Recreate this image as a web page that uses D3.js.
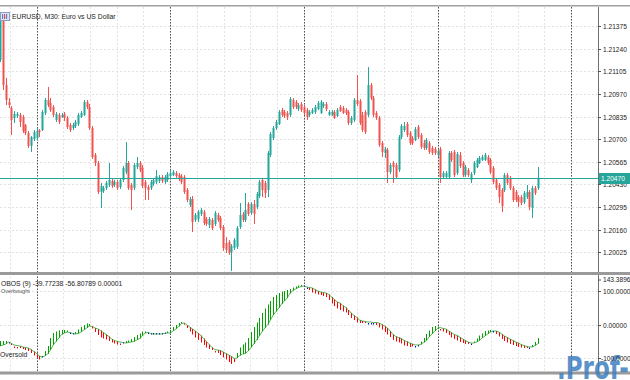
<!DOCTYPE html>
<html><head><meta charset="utf-8">
<script src="https://cdn.jsdelivr.net/npm/d3@7"></script>
<style>body{margin:0;background:#fff;overflow:hidden}svg{display:block;font-family:"Liberation Sans",Arial,sans-serif}</style>
</head><body><svg id="c" width="630" height="380"></svg>
<script>
// ---- data (prices in points above 1.20000, 1 point = 0.00001) ----
const basePrice = 1.2, pointSize = 0.00001;
const openPts = [
1173,1412,1024,922,886,827,839,845,833,785,
737,660,701,707,755,755,857,934,916,892,
815,845,833,851,827,785,767,779,791,833,
845,922,892,767,606,558,385,391,409,427,
451,427,445,415,457,504,558,427,409,534,
558,528,445,415,409,433,445,451,474,445,
457,480,486,498,486,480,474,397,307,343,
218,224,254,265,224,188,218,194,248,230,
176,80,86,27,51,57,176,254,218,313,
260,313,295,361,457,439,397,606,707,767,
791,874,863,857,845,934,922,880,910,892,
874,845,857,863,880,857,898,910,845,845,
863,839,892,886,874,863,797,815,934,928,
845,863,845,1024,946,857,827,677,618,636,
504,558,546,516,713,755,791,737,707,695,
773,725,677,648,677,648,642,606,642,474,
474,474,618,624,498,606,558,486,516,457,
498,534,558,576,576,594,576,528,457,427,
397,397,486,469,409,385,355,355,325,355,
385,289,409,409];
const highPts = [
1448,1436,1066,946,898,868,863,857,845,791,
749,719,755,767,761,874,946,1012,946,904,
863,857,857,863,839,797,797,815,857,868,
934,934,910,779,618,570,439,421,451,558,
463,457,457,469,540,683,570,439,558,594,
570,546,457,427,457,469,516,486,486,486,
504,516,516,510,498,492,486,409,355,361,
260,277,289,277,236,236,230,271,260,242,
188,116,98,74,110,182,319,265,379,325,
325,337,385,457,469,451,630,743,779,815,
874,886,874,868,952,946,934,916,922,904,
886,874,886,904,928,934,922,922,874,874,
874,886,904,898,886,874,839,946,1083,940,
863,874,1131,1036,958,868,839,689,654,648,
558,570,558,725,791,803,803,749,719,773,
785,737,695,707,689,660,654,642,654,510,
510,630,630,636,624,624,570,546,528,504,
570,588,600,606,618,606,588,540,469,439,
409,498,498,480,421,397,367,367,391,427,
397,421,421,534];
const lowPts = [
1161,994,904,886,725,797,827,773,737,725,
648,624,689,695,713,749,845,892,863,833,
803,791,827,809,761,743,755,767,779,827,
839,880,755,582,540,373,289,379,397,415,
409,415,397,403,445,492,397,277,397,522,
504,409,337,337,397,421,433,439,439,433,
445,469,480,469,451,433,373,325,295,146,
206,206,242,188,182,170,158,182,206,158,
33,21,9,-87,39,45,164,206,206,242,
248,194,283,349,355,349,355,594,695,755,
785,833,827,815,833,880,880,868,863,845,
815,833,851,851,874,851,886,868,839,839,
821,833,863,851,845,785,785,803,898,785,
743,731,833,934,833,815,654,594,588,439,
492,439,463,504,701,743,713,666,666,689,
701,642,636,636,612,606,606,594,439,463,
469,463,564,474,486,528,474,474,474,439,
486,528,552,570,570,546,492,433,397,319,
265,385,427,397,325,325,295,307,313,343,
277,230,367,397];
const closePts = [
1424,1024,934,904,815,851,851,803,749,737,
660,713,743,749,743,863,934,904,874,845,
851,803,845,827,773,755,785,803,845,857,
922,892,767,594,558,385,421,409,439,457,
421,445,409,457,528,558,409,397,546,558,
516,421,409,397,445,457,480,474,451,474,
492,498,504,480,463,445,385,337,343,206,
248,265,277,200,194,224,170,260,218,170,
51,39,21,62,98,170,248,218,277,254,
313,254,373,445,397,379,618,731,767,803,
863,845,839,833,940,892,892,904,874,857,
833,863,874,892,916,922,910,880,863,863,
827,874,868,857,857,797,827,934,910,797,
755,743,1024,946,845,827,666,624,642,504,
546,534,474,713,779,779,725,677,677,761,
713,654,648,695,624,618,618,630,474,498,
498,618,576,486,612,540,486,534,486,492,
558,576,588,594,606,558,504,445,409,355,
301,486,439,409,337,337,325,319,379,385,
295,409,379,470];
// OBOS(9) oscillator: fast line and slow line
const obosFast = [
-48.7,-48.7,-48.7,-51.7,-60.6,-65.0,-66.5,-69.5,-72.5,-75.5,
-78.4,-84.4,-91.8,-99.3,-103.7,-93.3,-78.4,-63.6,-39.7,-24.9,
-20.4,-17.4,-15.9,-15.9,-17.4,-23.4,-24.9,-21.9,-14.4,-7.0,
-1.0,3.4,1.9,-11.5,-21.9,-30.8,-38.3,-41.2,-44.2,-48.7,
-53.1,-56.1,-59.1,-56.1,-51.7,-48.7,-47.2,-42.7,-36.8,-30.8,
-26.3,-20.4,-20.4,-23.4,-24.9,-24.9,-24.9,-24.9,-24.9,-23.4,
-20.4,-15.9,-7.0,-1.0,4.9,7.9,0.4,-10.0,-20.4,-29.3,
-38.3,-45.7,-53.1,-60.6,-68.0,-72.5,-75.5,-78.4,-84.4,-90.4,
-97.8,-103.7,-111.2,-117.1,-111.2,-84.4,-68.0,-59.1,-53.1,-39.7,
-21.9,-7.0,6.4,19.8,34.7,48.1,60.0,70.4,82.3,88.3,
94.2,98.7,100.2,103.2,106.1,110.6,113.6,116.5,118.0,116.5,
110.6,103.2,95.7,92.7,89.8,88.3,85.3,82.3,73.4,63.0,
55.5,48.1,43.6,39.1,36.2,28.7,19.8,13.8,6.4,4.9,
4.9,4.9,4.9,4.9,4.9,-1.0,-8.5,-14.4,-21.9,-29.3,
-36.8,-45.7,-50.2,-53.1,-56.1,-62.1,-63.6,-66.5,-65.0,-63.6,
-60.6,-50.2,-39.7,-27.8,-17.4,-7.0,-4.0,-5.5,-12.9,-20.4,
-24.9,-30.8,-38.3,-42.7,-47.2,-51.7,-54.6,-57.6,-57.6,-56.1,
-50.2,-41.2,-32.3,-26.3,-18.9,-17.4,-15.9,-18.9,-27.8,-35.3,
-42.7,-48.7,-53.1,-57.6,-60.6,-63.6,-66.5,-68.0,-69.5,-69.5,
-68.0,-60.6,-51.7,-39.77238];
const obosSlow = [
-63.6,-60.6,-57.6,-51.7,-56.1,-60.6,-62.1,-63.6,-66.5,-68.0,
-69.5,-74.0,-79.9,-85.9,-93.3,-96.3,-93.3,-87.4,-75.5,-60.6,
-50.2,-39.7,-29.3,-24.9,-21.9,-23.4,-26.3,-27.8,-26.3,-21.9,
-15.9,-10.0,-4.0,-5.5,-10.0,-12.9,-17.4,-23.4,-29.3,-35.3,
-42.7,-47.2,-50.2,-51.7,-53.1,-54.6,-53.1,-51.7,-50.2,-45.7,
-41.2,-33.8,-24.9,-23.4,-26.3,-27.8,-27.8,-27.8,-27.8,-26.3,
-24.9,-24.9,-18.9,-12.9,-5.5,3.4,4.9,-1.0,-7.0,-12.9,
-18.9,-24.9,-32.3,-41.2,-50.2,-59.1,-68.0,-74.0,-75.5,-77.0,
-81.4,-85.9,-90.4,-94.8,-100.8,-99.3,-91.8,-87.4,-85.9,-78.4,
-68.0,-57.6,-45.7,-33.8,-20.4,-10.0,0.4,13.8,28.7,39.1,
49.6,61.5,70.4,79.3,92.7,101.7,106.1,110.6,113.6,115.1,
112.1,110.6,109.1,104.6,100.2,97.2,95.7,94.2,89.8,82.3,
74.9,67.4,64.4,57.0,51.1,43.6,34.7,27.2,21.3,13.8,
10.9,9.4,7.9,7.9,6.4,6.4,4.9,0.4,-4.0,-10.0,
-18.9,-29.3,-35.3,-38.3,-41.2,-47.2,-50.2,-54.6,-57.6,-60.6,
-60.6,-59.1,-53.1,-47.2,-36.8,-27.8,-18.9,-11.5,-8.5,-11.5,
-12.9,-18.9,-23.4,-29.3,-32.3,-36.8,-42.7,-47.2,-51.7,-54.6,
-54.6,-51.7,-47.2,-39.7,-33.8,-27.8,-21.9,-18.9,-18.9,-21.9,
-27.8,-33.8,-38.3,-42.7,-47.2,-51.7,-54.6,-59.1,-62.1,-65.0,
-66.5,-66.5,-62.1,-56.80789];
const priceTicks = [1.21375,1.21240,1.21105,1.20970,1.20835,1.20700,1.20565,1.20430,1.20295,1.20160,1.20025];
const lastPrice = 1.20470;
const obosTicks = [143.38962, 100, 0, -100];
const obosLevels = [100, -100];
const levelNames = ["Overbought", "Oversold"];
const daySeparatorBars = [13, 61, 109, 157, 205];
const titleText = "EURUSD, M30:  Euro vs US Dollar";
const obosTitle = "OBOS (9) -39.77238 -56.80789 0.00001";
const watermark = ".Prof-F";

// ---- layout ----
const svg = d3.select("#c");
const axisX = 598;
const mainTop = 7, mainBot = 272, subTop = 276.5, subBot = 372.8;
const n = closePts.length;
const px = v => basePrice + v * pointSize;
const x = d3.scaleLinear().domain([0, 193]).range([0.3, 537.8]);
const y = d3.scaleLinear().domain([1.199074, 1.214894]).range([mainBot, mainTop]);
const ys = d3.scaleLinear().domain([-143.38962, 143.38962]).range([subBot, subTop]);
const bull = "#26a69a", bear = "#ef5350";

// grid lines (vertical: 5 divisions per day)
const gridBars = [];
for (let b = daySeparatorBars[0] - 9.6; b < 230; b += 9.6) gridBars.push(b);
const gGrid = svg.append("g").attr("stroke", "#e2e2e2").attr("stroke-dasharray", "2,2").attr("stroke-width", 1);
gridBars.forEach(b => {
  const gx = Math.round(x(b)) + 0.5;
  if (gx > 0 && gx < axisX) {
    gGrid.append("line").attr("x1", gx).attr("x2", gx).attr("y1", mainTop).attr("y2", mainBot);
    gGrid.append("line").attr("x1", gx).attr("x2", gx).attr("y1", subTop).attr("y2", subBot);
  }
});
priceTicks.forEach(t => {
  const gy = Math.round(y(t)) + 0.5;
  gGrid.append("line").attr("x1", 0).attr("x2", axisX).attr("y1", gy).attr("y2", gy);
});
obosLevels.concat([0]).forEach(t => {
  const gy = Math.round(ys(t)) + 0.5;
  gGrid.append("line").attr("x1", 0).attr("x2", axisX).attr("y1", gy).attr("y2", gy);
});
// day separators
const gSep = svg.append("g").attr("stroke", "#505050").attr("stroke-dasharray", "1.5,1.5").attr("stroke-width", 1);
daySeparatorBars.forEach(b => {
  const gx = Math.round(x(b)) + 0.5;
  gSep.append("line").attr("x1", gx).attr("x2", gx).attr("y1", mainTop).attr("y2", mainBot);
  gSep.append("line").attr("x1", gx).attr("x2", gx).attr("y1", subTop).attr("y2", subBot);
});

// candles
const bars = d3.range(n).map(i => ({i, o: px(openPts[i]), h: px(highPts[i]), l: px(lowPts[i]), c: px(closePts[i])}));
const gC = svg.append("g");
gC.selectAll("line.w").data(bars).join("line")
  .attr("x1", d => Math.round(x(d.i)) + 0.5).attr("x2", d => Math.round(x(d.i)) + 0.5)
  .attr("y1", d => y(d.h)).attr("y2", d => y(d.l))
  .attr("stroke", d => d.c >= d.o ? bull : bear).attr("stroke-width", 1);
gC.selectAll("rect").data(bars).join("rect")
  .attr("x", d => Math.round(x(d.i)) - 0.5).attr("width", 2)
  .attr("y", d => y(Math.max(d.o, d.c)))
  .attr("height", d => Math.max(1, Math.abs(y(d.o) - y(d.c))))
  .attr("fill", d => d.c >= d.o ? bull : bear);

// last price line
const ly = Math.round(y(lastPrice)) + 0.5;
svg.append("line").attr("x1", 0).attr("x2", axisX).attr("y1", ly).attr("y2", ly).attr("stroke", bull).attr("stroke-width", 1);

// OBOS stripes
const gO = svg.append("g");
const obos = d3.range(n).map(i => ({i, a: obosFast[i], b: obosSlow[i]}));
gO.selectAll("line").data(obos).join("line")
  .attr("x1", d => Math.round(x(d.i)) + 0.5).attr("x2", d => Math.round(x(d.i)) + 0.5)
  .attr("y1", d => ys(d.a)).attr("y2", d => { const y2 = ys(d.b); return Math.abs(y2 - ys(d.a)) < 1.5 ? ys(d.a) + 1.5 : y2; })
  .attr("stroke", d => d.a - d.b > 3 ? "#00a000" : (d.b - d.a > 3 ? "#ff0000" : "#0000ff"))
  .attr("stroke-width", 1);
svg.append("path").datum(obos).attr("fill", "none").attr("stroke", "#2e9e2e").attr("stroke-width", 0.8)
  .attr("d", d3.line().x(d => x(d.i)).y(d => ys(d.b)));

// frames
svg.append("rect").attr("x", 0).attr("y", 5).attr("width", 630).attr("height", 1.5).attr("fill", "#a0a0a0");
svg.append("rect").attr("x", 0).attr("y", 272).attr("width", 630).attr("height", 3).attr("fill", "#9a9a9a");
svg.append("rect").attr("x", 0).attr("y", 371.5).attr("width", 630).attr("height", 3).attr("fill", "#9a9a9a");
svg.append("line").attr("x1", axisX + 0.5).attr("x2", axisX + 0.5).attr("y1", mainTop).attr("y2", mainBot).attr("stroke", "#707070");
svg.append("line").attr("x1", axisX + 0.5).attr("x2", axisX + 0.5).attr("y1", 275).attr("y2", 371.5).attr("stroke", "#707070");

// watermark (behind axis text)
svg.append("g").attr("transform", "translate(557,379) scale(1,1.35)")
  .append("text").attr("font-size", 23).attr("font-weight", "bold").attr("font-family", "DejaVu Sans")
  .attr("fill", "#3f7fc0").attr("opacity", 0.85).text(watermark);

// price axis
const fs = 6.6;
const gA = svg.append("g").attr("font-size", fs).attr("fill", "#222");
priceTicks.forEach(t => {
  const gy = Math.round(y(t)) + 0.5;
  gA.append("line").attr("x1", axisX).attr("x2", axisX + 3).attr("y1", gy).attr("y2", gy).attr("stroke", "#555");
  gA.append("text").attr("x", 603).attr("y", gy).attr("dy", "0.35em").text(t.toFixed(5));
});
svg.append("rect").attr("x", axisX + 1).attr("y", ly - 5.5).attr("width", 31).attr("height", 11).attr("fill", bull);
svg.append("text").attr("x", 601).attr("y", ly).attr("dy", "0.35em").attr("font-size", fs).attr("fill", "#fff").text(lastPrice.toFixed(5));

// obos axis
obosTicks.forEach(t => {
  const gy = Math.max(Math.round(ys(t)) + 0.5, subTop + 3.5);
  gA.append("line").attr("x1", axisX).attr("x2", axisX + 3).attr("y1", gy).attr("y2", gy).attr("stroke", "#555");
  gA.append("text").attr("x", t < 0 ? 601 : 603).attr("y", gy).attr("dy", "0.35em").text(t.toFixed(5));
});

// titles
svg.append("rect").attr("x", 0.5).attr("y", 12.5).attr("width", 9).attr("height", 8).attr("fill", "#dfe6f3").attr("stroke", "#8a9cc8");
[[2,"#6a7fc0"],[4,"#e05050"],[6,"#6a7fc0"]].forEach(([dx,c]) => svg.append("rect").attr("x", dx).attr("y", 14).attr("width", 1.2).attr("height", 5).attr("fill", c));
svg.append("text").attr("x", 12).attr("y", 19).attr("font-size", 6.8).attr("fill", "#222").text(titleText);
svg.append("text").attr("x", 1).attr("y", 286).attr("font-size", 6.8).attr("fill", "#222").text(obosTitle);
svg.append("text").attr("x", 1).attr("y", 292.5).attr("font-size", 5.5).attr("fill", "#555").text(levelNames[0]);
svg.append("text").attr("x", 0).attr("y", 357).attr("font-size", 6.8).attr("fill", "#222").text(levelNames[1]);
</script></body></html>
